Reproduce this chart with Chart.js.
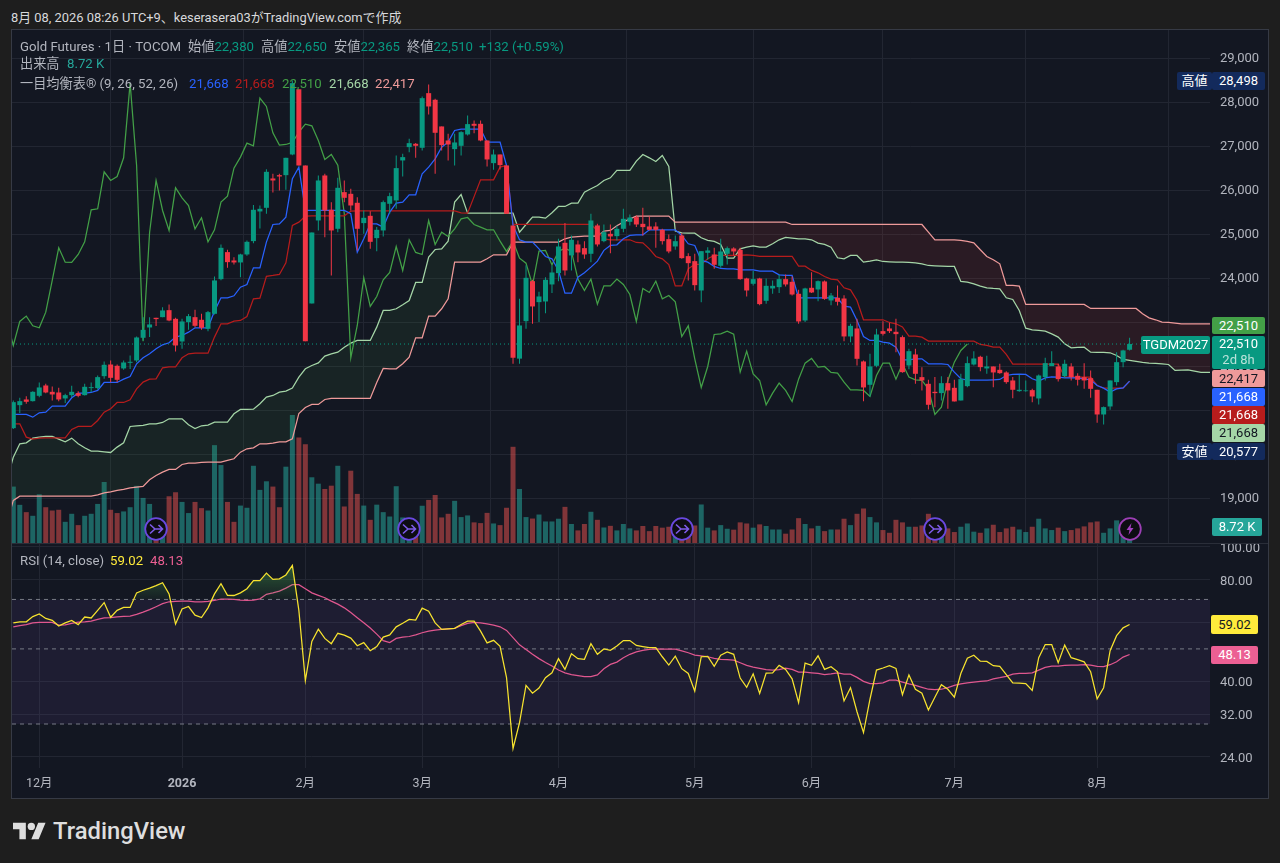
<!DOCTYPE html>
<html>
<head>
<meta charset="utf-8">
<script src="https://cdn.jsdelivr.net/npm/chart.js@4"></script>
<style>
  html, body { margin: 0; padding: 0; background: #1e1e1e; }
  body { width: 1280px; height: 863px; position: relative; overflow: hidden;
         font-family: Roboto, "Noto Sans CJK JP", sans-serif; color: #b2b5be; }
  #panel { position: absolute; left: 11px; top: 29px; width: 1256px; height: 768px;
           background: #131722; border: 1px solid #363a45; }
  canvas { position: absolute; }
  #priceBox { position: absolute; left: 12px; top: 30px; width: 1256px; height: 513px; }
  #rsiBox { position: absolute; left: 12px; top: 544px; width: 1256px; height: 253px; }
  #sep { position: absolute; left: 12px; top: 543px; width: 1256px; height: 1px; background: #2a2e39; }
  .t { position: absolute; white-space: nowrap; font-size: 13.2px; line-height: 16px; }
  .b { position: absolute; white-space: nowrap; font-size: 13px; text-align: center; border-radius: 2px; }
  .icon { position: absolute; width: 24px; height: 24px; }
</style>
</head>
<body>
<div class="t" style="left:11px;top:10px;color:#d8d9dc;font-size:12.9px">8月 08, 2026 08:26 UTC+9、keserasera03がTradingView.comで作成</div>
<div id="panel"></div>
<div id="priceBox"><canvas id="priceChart"></canvas></div>
<div id="sep"></div>
<div id="rsiBox"><canvas id="rsiChart"></canvas></div>

<div class="t" style="left:20px;top:39px">Gold Futures · 1日 · TOCOM</div>
<div class="t" style="left:188px;top:39px">始値<span style="color:#089981">22,380</span></div>
<div class="t" style="left:261px;top:39px">高値<span style="color:#089981">22,650</span></div>
<div class="t" style="left:334px;top:39px">安値<span style="color:#089981">22,365</span></div>
<div class="t" style="left:407px;top:39px">終値<span style="color:#089981">22,510</span></div>
<div class="t" style="left:479px;top:39px;color:#089981">+132 (+0.59%)</div>
<div class="t" style="left:20px;top:56px">出来高</div>
<div class="t" style="left:67px;top:56px;color:#26a69a">8.72 K</div>
<div class="t" style="left:20px;top:76px">一目均衡表® (9, 26, 52, 26)</div>
<div class="t" style="left:189px;top:76px;color:#2962ff">21,668</div>
<div class="t" style="left:235px;top:76px;color:#b71c1c">21,668</div>
<div class="t" style="left:282px;top:76px;color:#43a047">22,510</div>
<div class="t" style="left:329px;top:76px;color:#a5d6a7">21,668</div>
<div class="t" style="left:375px;top:76px;color:#ef9a9a">22,417</div>
<div class="t" style="left:20px;top:553px">RSI (14, close)</div>
<div class="t" style="left:110px;top:553px;color:#ffeb3b">59.02</div>
<div class="t" style="left:150px;top:553px;color:#ec5f93">48.13</div>

<div class="b" style="left:1177px;top:72px;width:35px;height:18px;line-height:18px;background:#132a5c;color:#fff">高値</div>
<div class="b" style="left:1212px;top:72px;width:53px;height:18px;line-height:18px;background:#132a5c;color:#fff">28,498</div>
<div class="b" style="left:1212px;top:317px;width:53px;height:17px;line-height:17px;background:#43a047;color:#fff">22,510</div>
<div class="b" style="left:1141px;top:336px;width:69px;height:18px;line-height:18px;background:#089981;color:#fff">TGDM2027</div>
<div class="b" style="left:1212px;top:336px;width:53px;height:33px;background:#089981;color:#fff;line-height:16px">22,510<br><span style="color:#b9e3da">2d 8h</span></div>
<div class="b" style="left:1212px;top:370px;width:53px;height:17px;line-height:17px;background:#ef9a9a;color:#131722">22,417</div>
<div class="b" style="left:1212px;top:388px;width:53px;height:18px;line-height:18px;background:#2962ff;color:#fff">21,668</div>
<div class="b" style="left:1212px;top:406px;width:53px;height:18px;line-height:18px;background:#b71c1c;color:#fff">21,668</div>
<div class="b" style="left:1212px;top:424px;width:53px;height:18px;line-height:18px;background:#a5d6a7;color:#131722">21,668</div>
<div class="b" style="left:1177px;top:443px;width:35px;height:17px;line-height:17px;background:#132a5c;color:#fff">安値</div>
<div class="b" style="left:1212px;top:443px;width:53px;height:17px;line-height:17px;background:#132a5c;color:#fff">20,577</div>
<div class="b" style="left:1212px;top:518px;width:50px;height:18px;line-height:18px;background:#26a69a;color:#fff">8.72 K</div>
<div class="b" style="left:1211px;top:615px;width:47px;height:19px;line-height:19px;background:#ffeb3b;color:#131722">59.02</div>
<div class="b" style="left:1211px;top:646px;width:47px;height:18px;line-height:18px;background:#ec5f93;color:#fff">48.13</div>

<svg style="position:absolute;left:13px;top:822px" width="33" height="18" viewBox="0 4 36 18"><path fill="#dedede" d="M14 22H7V11H0V4h14v18zM28 22h-8l7.5-18h8L28 22z"/><circle fill="#dedede" cx="20" cy="8" r="4"/></svg>
<div class="t" style="left:53px;top:818px;font-size:23.8px;line-height:26px;font-weight:500;color:#dedede">TradingView</div>

<script>
const open_ = [20598,21121,21250,21212,21333,21568,21424,21409,21273,21348,21394,21348,21508,21508,21780,22045,22015,21955,22083,22136,
22652,22886,23106,23121,23280,23083,22568,23008,23121,23061,22856,23197,23985,24599,24409,24364,24546,24849,25523,25606,
26273,26348,26348,26818,28300,26568,23432,25318,26341,25561,25129,25962,25924,25720,25258,25424,24917,25091,25697,25773,
26682,26985,27061,26970,28212,28061,27455,27136,26939,27015,27273,27515,27515,27136,26621,26818,26568,25205,22178,23030,
23939,23462,23477,23864,24121,24811,24523,24773,24689,24561,25205,24848,25015,24962,25129,25288,25394,25242,25182,25182,
25106,24894,24727,24977,24508,24394,23727,24583,24545,24288,24561,24682,24652,24000,23879,24000,23492,23773,23803,23985,
23924,23652,23045,23788,23750,23932,23500,23561,23545,22682,22864,22114,21583,22015,22803,22864,22788,22667,22023,22273,
21758,21606,21424,21394,21621,21515,21227,21553,22045,22220,21955,22000,21924,21864,21682,21439,21439,21462,21273,21758,
22008,22000,21780,22000,21788,21758,21735,21470,20909,21091,21644,22098,22380];
const high = [21227,21288,21326,21439,21636,21606,21545,21515,21379,21560,21439,21606,21636,21795,22114,22136,22045,22136,22250,22682,
23121,23121,23106,23348,23409,23106,23083,23190,23288,23197,23258,24045,24773,24652,24485,24561,24864,25667,25659,26485,
26379,26379,26742,28498,28300,26568,25045,26341,26379,25735,26288,26227,26038,25848,25545,25530,25167,25773,25950,26795,
26833,27174,27076,28136,28409,28083,27455,27288,27288,27348,27705,27591,27591,27136,26932,26818,26568,25205,23538,24300,
23970,23700,24030,24295,24902,25258,24977,24864,24848,25470,25242,25227,25227,25205,25583,25455,25432,25606,25409,25280,
25129,25000,24977,25030,24576,24561,24621,24712,24697,24902,24727,24712,24697,24015,24167,24015,24000,23955,24091,24091,
24045,23742,23788,24144,23955,23955,23667,23841,23621,22970,23083,22136,22288,22856,23030,22992,23083,22705,22401,22401,
21985,21697,21758,21780,21758,21697,21833,22227,22348,22242,22242,22000,22061,21894,21758,21811,21682,21492,21818,22197,
22348,22061,22152,22076,21848,22076,21909,21470,21091,21682,22326,22379,22650];
const low = [20577,20940,21152,21205,21303,21394,21227,21212,21167,21303,21303,21341,21416,21477,21720,21644,21644,21924,21940,22098,
22591,22667,22917,23121,23030,22341,22401,22833,22894,22833,22803,23182,23960,24242,24318,24030,24515,24803,25136,25470,
25955,26000,26015,26800,26568,22576,23432,25091,24939,24068,25053,25735,25545,24636,25015,24674,24621,24955,25470,25583,
26318,26871,26742,26909,27727,26379,26909,26682,26568,26795,27250,27303,27121,26545,26470,26477,25470,22061,22061,22856,
22970,23008,23212,23667,23939,24068,24182,24371,24447,24371,24727,24826,24576,24864,25053,25205,25167,24977,25091,24697,
24773,24576,24652,24447,23955,23727,23462,24424,24220,24242,24318,24523,23970,23591,23841,23394,23424,23652,23667,23818,
23614,22970,23008,23667,23485,23515,23394,23386,22576,22553,22023,21212,21318,21985,22705,22758,22326,21856,21939,21606,
21455,21023,21076,21227,21038,21205,21227,21530,22023,21894,21833,21530,21833,21606,21280,21424,21424,21189,21136,21682,
22008,21659,21742,21682,21568,21492,21288,20720,20682,21015,21568,21985,22365];
const close_ = [21189,21212,21197,21424,21523,21409,21364,21250,21348,21424,21333,21538,21530,21758,22038,21742,21697,22091,22106,22659,
22833,22955,23076,23273,23045,22477,23023,23144,22924,22879,23235,23955,24697,24371,24364,24546,24833,25561,25583,26424,
26227,26318,26742,28440,26568,22576,25045,26227,25545,25091,26061,25833,25659,25129,25379,24833,25106,25735,25871,26508,
26758,27076,27015,28098,27909,27311,27030,27045,27091,27326,27508,27470,27136,26705,26818,26576,25470,22197,22932,24015,
23364,23591,23970,24136,24727,24182,24879,24591,24545,25318,24773,25053,24955,25129,25356,25386,25227,25167,25106,25106,
24848,24614,24848,24462,24348,23848,24621,24636,24311,24614,24689,24614,23985,23727,23985,23417,23833,23833,23985,23864,
23636,23023,23773,23682,23939,23538,23614,23470,22682,22924,22174,21523,22000,22727,22742,22803,22735,21871,22348,21833,
21682,21129,21394,21621,21455,21205,21712,22076,22182,21985,22000,21864,21848,21644,21470,21470,21455,21318,21795,22076,
22076,21712,22061,21758,21697,21682,21492,20909,21076,21682,22098,22364,22510];
const volume = [30.9,20.9,16.9,14.9,26.7,19.6,17.8,18.2,11.6,16,9.8,14.9,16,21.4,33.4,18.2,16.4,17.3,19.6,31.3,
24.7,21.4,12,12,25.6,27.8,22.5,16.4,22.5,19.1,17.8,53.6,42.7,22.5,11.6,20.5,19.3,42.3,29.1,33.8,
30.9,19.6,41.8,70.1,57.8,54.1,36,32.5,29.6,31.4,42.3,20,39.6,26.9,20.5,12.7,21,16.9,14.5,31.1,
14,12,10,20.4,23.6,26.3,14,16,23.1,14.2,15.1,11.3,10.9,16.5,10.7,9.8,19.3,52.7,29.6,14.2,
13.4,15.6,11.8,11.8,13.3,19.8,10.4,6.9,10.4,17.1,12.7,8.5,9.4,6.9,10.4,8,6.9,9.3,6.5,9.3,
8.4,8.9,9,7,8,9.6,21.1,8.4,6.9,9.8,7.8,7.3,11.3,10.7,8.4,10.2,9.3,7.4,7.4,5.1,
7.4,13.6,10.4,8,9.4,6.5,7.4,7.4,13.3,9.8,16,18.9,14.2,11.3,7.1,5.6,12.7,11.3,8.9,8.9,
9.6,16,9,8,8,6,8.9,10.7,6.2,5.6,8,10,6,8,8.9,7.4,6,8.9,13.3,8,
7.1,8.4,6.5,7.1,8,9.1,11.3,11.8,5.6,8,12.4,9,8.72];
const tenkan = [20909,20909,20909,20848,20947,20962,21098,21098,21098,21288,21394,21394,21409,21455,21636,21636,21636,21712,21773,22060,
22197,22288,22402,22492,22538,22667,22705,22780,22879,22879,22879,23258,23561,23561,23606,23803,23864,24242,24242,24826,
25227,25242,25394,26265,26530,25545,25545,25545,25545,25545,25545,25545,25470,24598,24901,25242,25242,25167,25508,25712,
25735,25902,25902,26379,26530,26720,26985,27098,27364,27394,27394,27394,27394,27098,27098,27098,26568,25205,24879,24826,
24826,24674,24500,24447,24182,23667,23667,24030,24129,24258,24394,24640,24750,24765,24902,24977,24992,24992,25106,25106,
25106,25106,25106,24977,24788,24750,24409,24371,24273,24227,24220,24220,24197,24197,24197,24167,24167,24167,24083,24068,
24068,23561,23561,23561,23561,23561,23561,23561,23371,23348,23045,22682,22591,22591,22553,22530,22439,22150,22150,22174,
22174,22061,22061,22061,22045,21871,21720,21689,21689,21689,21689,21697,21705,21795,21818,21826,21818,21720,21667,21742,
21765,21758,21742,21742,21742,21720,21697,21568,21508,21417,21492,21515,21668];
const kijun = [20697,20697,20394,20348,20371,20379,20379,20379,20379,20568,20636,20636,20636,20773,20962,21038,21182,21182,21242,21492,
21644,21712,21720,21970,21992,21992,22197,22288,22303,22303,22303,22667,22970,22970,23030,23045,23136,23538,23553,24050,
24068,24091,24356,25205,25280,25417,25424,25424,25424,25424,25424,25424,25530,25538,25538,25538,25538,25538,25538,25538,
25538,25538,25538,25538,25538,25538,25538,25538,25538,25492,25485,25860,26242,26242,26242,26530,26568,25227,25227,25227,
25227,25227,25227,25227,25227,25227,25227,25227,25227,25227,25091,24901,24879,24879,24879,24879,24818,24811,24674,24500,
24447,24318,23833,23833,24220,24318,24318,24447,24523,24523,24523,24523,24523,24538,24523,24500,24500,24500,24500,24500,
24500,24280,24280,24182,24129,24045,23985,23970,23788,23742,23500,23061,23061,23061,23061,23000,22970,22900,22689,22689,
22667,22576,22576,22576,22576,22576,22576,22576,22576,22500,22477,22439,22439,22273,22053,22053,22053,22053,22053,22053,
22053,22053,21758,21758,21758,21758,21758,21568,21508,21508,21508,21508,21668];
// these three start one bar left of the first candle, the line comes in from off screen
const chikou = [23045,22477,23023,23144,22924,22879,23235,23955,24697,24371,24364,24546,24833,25561,25583,26424,
26227,26318,26742,28440,26568,22576,25045,26227,25545,25091,26061,25833,25659,25129,25379,24833,25106,25735,25871,26508,
26758,27076,27015,28098,27909,27311,27030,27045,27091,27326,27508,27470,27136,26705,26818,26576,25470,22197,22932,24015,
23364,23591,23970,24136,24727,24182,24879,24591,24545,25318,24773,25053,24955,25129,25356,25386,25227,25167,25106,25106,
24848,24614,24848,24462,24348,23848,24621,24636,24311,24614,24689,24614,23985,23727,23985,23417,23833,23833,23985,23864,
23636,23023,23773,23682,23939,23538,23614,23470,22682,22924,22174,21523,22000,22727,22742,22803,22735,21871,22348,21833,
21682,21129,21394,21621,21455,21205,21712,22076,22182,21985,22000,21864,21848,21644,21470,21470,21455,21318,21795,22076,
22076,21712,22061,21758,21697,21682,21492,20909,21076,21682,22098,22364,22510];
const spanA = [19409,19939,20242,20265,20371,20394,20409,20409,20348,20288,20371,20242,20152,20076,20076,20061,20045,20167,20265,20636,20652,
20659,20697,20697,20727,20811,20811,20811,20674,20591,20652,20667,20735,20735,20735,20924,21023,21023,21030,21152,21303,
21341,21417,21439,21508,21758,21947,22023,22080,22235,22288,22326,22439,22530,22591,22591,22591,22894,23273,23273,23311,
23402,23500,23909,23909,24485,24659,24674,24848,25735,25909,25485,25485,25485,25485,25485,25485,25485,25485,25053,25227,
25394,25394,25371,25492,25636,25636,25712,25712,25962,26038,26114,26227,26288,26455,26455,26455,26667,26818,26742,26659,
26795,26545,25076,25038,25030,25030,24924,24864,24841,24773,24462,24462,24674,24712,24742,24712,24712,24788,24879,24932,
24917,24902,24902,24879,24803,24773,24712,24470,24447,24523,24523,24371,24394,24424,24386,24379,24371,24371,24364,24356,
24333,24295,24288,24280,24273,24273,23932,23917,23879,23826,23788,23773,23765,23561,23523,23273,22871,22833,22818,22803,
22742,22667,22515,22424,22432,22439,22326,22318,22318,22311,22250,22159,22136,22114,22091,22076,22068,22061,22045,21909,
21917,21924,21894,21864,21864,21864];
const spanB = [18432,18955,19053,19053,19053,19053,19053,19053,19053,19053,19053,19053,19053,19053,19083,19129,19152,19182,19205,19242,19258,
19273,19424,19523,19598,19659,19659,19773,19803,19803,19818,19826,19826,19826,19864,19902,20053,20129,20152,20242,20242,
20258,20288,20288,20356,20932,21068,21136,21136,21250,21273,21273,21273,21273,21273,21273,21273,21636,21955,21947,21947,
22061,22212,22652,22652,23144,23144,23311,23538,24371,24371,24371,24371,24371,24447,24538,24538,24538,24826,24826,24826,
24826,24826,24826,24826,24826,24902,24939,24950,24962,24962,24962,25076,25091,25197,25280,25356,25417,25417,25417,25417,
25417,25417,25280,25280,25280,25280,25280,25280,25280,25280,25280,25280,25280,25280,25280,25280,25280,25280,25280,25280,
25227,25227,25227,25227,25227,25227,25227,25227,25227,25227,25227,25227,25227,25227,25227,25227,25227,25227,25227,25227,
25227,25053,24879,24879,24879,24879,24864,24841,24811,24652,24500,24424,24333,23841,23841,23826,23409,23409,23409,23409,
23409,23409,23409,23409,23409,23409,23318,23318,23318,23318,23318,23318,23318,23318,23197,23106,23061,23008,23000,22985,
22970,22970,22970,22970,22970,22970];
const rsi = [59.7,60.1,60.1,62.3,63.4,61.5,60.7,58.4,59.7,60.7,59,62.1,61.7,65,68.5,62,65,66.3,66.3,73.2,
74.5,75.6,76.9,78.4,72.7,59.2,65.6,66.7,62.9,61.9,66.1,72.7,77.9,72,71.9,73.2,75.3,79.6,79.6,83.7,
80.2,80.5,82.7,88.2,65,40.3,52.6,57.2,53.7,51.8,55.6,54.9,53.8,51.1,52.2,49.4,50.8,54.2,55,58.1,
59.5,61.1,60.8,66,64.6,59.7,57.1,57.3,57.5,59,60.4,60.4,56.4,52.1,53,50.9,41.1,25.4,30.3,39,
37,38.3,41.1,42.5,46.8,43.5,48.4,46.8,46.6,51.8,48.2,50,49.5,51,52.9,52.9,51.2,50.8,50.4,50.4,
47.4,44.8,47.6,43.7,42.3,37.5,47.4,47.5,44.4,47.9,49,48.2,41,38.5,42.2,36.9,42.4,42.5,44.7,43.5,
40.8,34.7,45.4,44.7,47.7,43.5,44.3,42.8,35.1,38.4,32.6,28.3,35.5,43.3,43.9,44.6,43.8,36.6,41.9,38,
37,33,36,39.2,38,36,42.3,46.9,47.9,46,45.9,44.6,44.4,42,39.7,39.6,39.5,37.7,47.1,51.5,
51.5,45.5,51.3,47.1,46.5,45.8,42.8,35.6,38.4,49.4,54.7,57.7,59.02];
const rsiMa = [58.1,58.6,59,59.7,59.9,59.9,59.9,58.8,58.9,59.5,60,60.1,60.4,61.1,61.7,61.9,62.2,62.4,62.5,63.2,
64.2,65.3,66.6,68,68.9,69.1,69.2,69.2,68.9,68.9,69.1,69.5,70.2,70.2,70,69.7,69.5,69.7,70.3,72.5,
73.2,74.1,75.6,77.4,77.4,75.3,73.2,72,70.8,69.2,67.8,66.1,64,61.8,59.7,57.6,55.3,52.9,52.2,53.7,
54.2,54.4,55,55.8,56.4,56.8,57.1,57.3,57.5,58.6,59.5,59.9,59.7,59.3,58.8,58.1,56.7,54,51.4,49.8,
48.2,46.8,45.6,44.5,43.3,42.5,42,41.7,41.4,41.4,41.9,43.7,45,45.7,47.1,48.2,49,49.5,49.8,50,
49.9,49.9,49.9,49.3,48.7,47.9,47.7,47.4,46.9,46.6,46.5,46.3,45.5,44.7,44.2,43.8,43.4,43.3,43.4,43.9,
43.5,42.7,42.7,42.5,42.3,42,42.2,42.5,42.1,42.1,41.2,40.1,39.5,39.5,39.7,40.4,40.4,39.9,39.4,39,
38.5,38,37.9,38,38.4,39,39.4,39.7,39.9,40.1,40.2,40.8,41.1,41.5,42.1,42.3,42.3,42.5,43.3,44.1,
44.5,44.5,44.7,44.8,44.8,44.9,44.8,44.4,44.3,44.9,45.8,47.3,48.13];
const monthIdx = [4,26,45,63,84,105,123,145,167];
const monthLabels = ['12月','2026','2月','3月','4月','5月','6月','7月','8月'];
const priceTicks = [19000,20000,21000,22000,23000,24000,25000,26000,27000,28000,29000];
const rsiTicks = [24,32,40,60,80,100];
const rsiBands = [70,50,30];
const lastPrice = 22510;
const iconIdx = [22,61,103,142];

const TEXT = '#b2b5be', GRID = '#222632', UP = '#089981', DOWN = '#f23645';
const X_MIN = -0.2, X_MAX = 184.39;
const FONT = 'Roboto, "Noto Sans CJK JP", sans-serif';

const isUp = open_.map((o, i) => close_[i] >= o);
const series = (arr, off) => arr.map((v, i) => ({x: i + (off || 0), y: v}));
const line = (label, data, color, order, extra) => Object.assign({
    type: 'line', label: label, data: data, borderColor: color, borderWidth: 1.25,
    pointRadius: 0, tension: 0, fill: false, order: order, yAxisID: 'y'
}, extra || {});

function xAxis(showLabels) {
    return {
        type: 'linear', min: X_MIN, max: X_MAX, offset: false,
        afterBuildTicks: s => { s.ticks = monthIdx.map(v => ({value: v})); },
        afterFit: s => { s.height = showLabels ? 29 : 0; s.paddingLeft = 0; s.paddingRight = 0; },
        grid: {color: GRID, drawTicks: false},
        border: {display: false},
        ticks: {
            display: showLabels, autoSkip: false, maxRotation: 0, padding: 8, color: TEXT,
            font: c => ({family: FONT, size: 12.5, weight: c.index === 1 ? 'bold' : 'normal'}),
            callback: (v, i) => monthLabels[i]
        }
    };
}

function yAxis(extra) {
    return Object.assign({
        position: 'right',
        afterFit: s => { s.width = 58; s.paddingTop = 0; s.paddingBottom = 0; },
        grid: {color: GRID, drawTicks: false},
        border: {display: false}
    }, extra);
}

const common = {
    responsive: false, animation: false, events: [],
    layout: {padding: 0},
    plugins: {legend: {display: false}, tooltip: {enabled: false}}
};

const priceCanvas = document.getElementById('priceChart');
priceCanvas.width = 1256; priceCanvas.height = 513;
new Chart(priceCanvas, {
    data: {
        datasets: [
            {type: 'bar', label: 'high-low', data: high.map((h, i) => ({x: i, y: [low[i], h]})),
             backgroundColor: isUp.map(u => u ? UP : DOWN), maxBarThickness: 1, grouped: false, order: 2, yAxisID: 'y'},
            {type: 'bar', label: 'open-close', data: open_.map((o, i) => ({x: i, y: [o, close_[i]]})),
             backgroundColor: isUp.map(u => u ? UP : DOWN), maxBarThickness: 5, barPercentage: 0.8, categoryPercentage: 1,
             grouped: false, order: 1, yAxisID: 'y'},
            line('span A', series(spanA, -1), '#a5d6a7', 8, {
                fill: {target: '+1', above: 'rgba(67,160,71,0.1)', below: 'rgba(244,67,54,0.1)'}}),
            line('span B', series(spanB, -1), '#ef9a9a', 7),
            line('chikou', series(chikou, -1), '#43a047', 6),
            line('kijun', series(kijun), '#b71c1c', 5),
            line('tenkan', series(tenkan), '#2962ff', 4),
            line('last', [{x: X_MIN, y: lastPrice}, {x: X_MAX, y: lastPrice}], UP, 3, {borderWidth: 1, borderDash: [1, 3]}),
            {type: 'bar', label: 'volume', data: series(volume),
             backgroundColor: isUp.map(u => u ? 'rgba(38,166,154,0.55)' : 'rgba(239,83,80,0.5)'),
             maxBarThickness: 5, barPercentage: 0.8, categoryPercentage: 1, grouped: false, order: 10, yAxisID: 'vol'}
        ]
    },
    options: Object.assign({}, common, {
        scales: {
            x: xAxis(false),
            y: yAxis({
                min: 17988, max: 29647,
                afterBuildTicks: s => { s.ticks = priceTicks.map(v => ({value: v})); },
                ticks: {autoSkip: false, padding: 10, labelOffset: 0.5, color: TEXT, font: {family: FONT, size: 13},
                        callback: v => v.toLocaleString('en-US')}
            }),
            vol: {display: false, position: 'right', min: 0, max: 281}
        }
    })
});

const rsiCanvas = document.getElementById('rsiChart');
rsiCanvas.width = 1256; rsiCanvas.height = 253;
const hotFill = rsiCanvas.getContext('2d').createLinearGradient(0, 20, 0, 56);
hotFill.addColorStop(0, 'rgba(76,175,80,0.45)');
hotFill.addColorStop(1, 'rgba(76,175,80,0.05)');
const band = v => [{x: X_MIN, y: v}, {x: X_MAX, y: v}];
const dash = {borderColor: '#787b86', borderWidth: 1, borderDash: [4, 4]};

new Chart(rsiCanvas, {
    data: {
        datasets: [
            line('rsi', series(rsi), '#f7e32f', 1, {
                fill: {value: rsiBands[0], above: hotFill, below: 'rgba(0,0,0,0)'}}),
            line('rsi ma', series(rsiMa), '#e0578f', 2),
            line('upper', band(rsiBands[0]), '#787b86', 5, Object.assign({
                fill: {target: {value: rsiBands[2]}, above: 'rgba(126,87,194,0.1)', below: 'rgba(126,87,194,0.1)'}}, dash)),
            line('middle', band(rsiBands[1]), '#787b86', 4, dash),
            line('lower', band(rsiBands[2]), '#787b86', 3, dash)
        ]
    },
    options: Object.assign({}, common, {
        scales: {
            x: xAxis(true),
            y: yAxis({
                type: 'logarithmic', min: 22.24, max: 102.06,
                afterBuildTicks: s => { s.ticks = rsiTicks.map(v => ({value: v})); },
                ticks: {autoSkip: false, padding: 10, labelOffset: 1.5, color: TEXT, font: {family: FONT, size: 13},
                        callback: v => v.toFixed(2)}
            })
        }
    })
});

// event markers sit on the time scale, so place them from the bar index
function addIcon(idx, ring, inner) {
    const d = document.createElement('div');
    d.className = 'icon';
    d.style.left = (13.3 + 6.49 * idx - 12) + 'px';
    d.style.top = '517px';
    d.innerHTML = '<svg width="24" height="24" viewBox="0 0 24 24"><circle cx="12" cy="12" r="10.8" fill="#0d0d12" stroke="' + ring + '" stroke-width="1.8"/>' + inner + '</svg>';
    document.body.appendChild(d);
}
iconIdx.forEach(i => addIcon(i, '#6a49e0',
    '<path d="M6 7.5 L11 12 H18.5 M14.5 8 L18.5 12 L14.5 16 M6 16.5 L11 12" fill="none" stroke="#7e5be8" stroke-width="1.6"/>'));
addIcon(172, '#9c3fb5', '<path d="M13.5 6 L8.5 13 H11.5 L10.5 18 L15.5 11 H12.5 Z" fill="#a33fc0"/>');
</script>
</body>
</html>
